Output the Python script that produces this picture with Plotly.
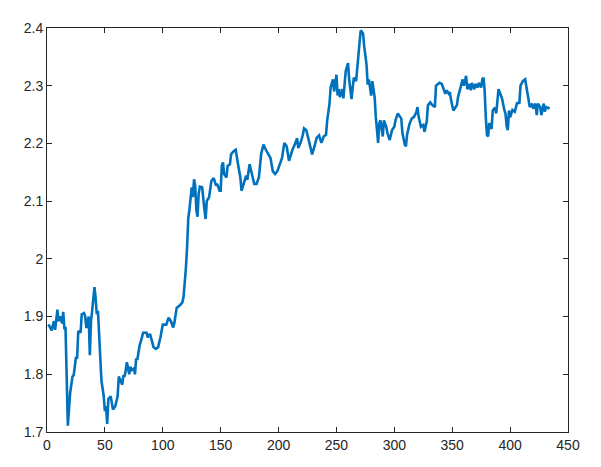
import plotly.graph_objects as go

x_idx = [1, 2, 4, 6, 7, 9, 10, 12, 13, 14, 15, 16, 18, 20, 22, 23, 24, 25, 26, 27, 29, 30, 32, 33, 34, 36, 37, 38, 39,
         41, 42, 43, 44, 45, 46, 47, 49, 50, 51, 52, 53, 55, 56, 57, 59, 61, 62, 63, 65, 66, 67, 68, 69, 71, 72, 73,
         75, 76, 77, 78, 80, 82, 83, 86, 87, 89, 92, 94, 96, 98, 100, 103, 105, 107, 109, 110, 112, 115, 117, 118,
         119, 120, 121, 122, 123, 124, 125, 126, 127, 128, 129, 130, 131, 132, 134, 136, 137, 138, 140, 141, 142, 144,
         146, 147, 149, 150, 151, 152, 153, 155, 156, 158, 159, 161, 163, 165, 167, 168, 170, 172, 173, 175, 177, 179,
         181, 183, 185, 187, 189, 191, 193, 195, 197, 199, 201, 203, 205, 207, 209, 210, 212, 214, 216, 217, 219, 221,
         222, 224, 225, 227, 229, 231, 233, 235, 237, 239, 241, 242, 244, 245, 247, 248, 249, 250, 251, 252, 253, 255,
         256, 258, 260, 261, 263, 264, 265, 267, 268, 270, 271, 273, 274, 276, 277, 278, 280, 281, 283, 284, 286, 287,
         288, 290, 291, 293, 294, 296, 298, 300, 301, 303, 304, 306, 307, 309, 310, 311, 313, 315, 317, 319, 320, 321,
         323, 325, 326, 328, 329, 331, 333, 335, 336, 339, 341, 342, 344, 345, 347, 348, 349, 351, 352, 354, 355, 357,
         358, 359, 360, 362, 363, 365, 366, 367, 369, 370, 372, 373, 375, 376, 377, 378, 379, 380, 381, 382, 384, 385,
         387, 388, 390, 391, 393, 395, 396, 397, 398, 399, 400, 402, 404, 406, 408, 409, 411, 413, 414, 416, 417, 419,
         420, 422, 423, 424, 426, 427, 429, 430, 431, 433, 434]

values = [1.886, 1.884, 1.876, 1.892, 1.877, 1.912, 1.892, 1.900, 1.888, 1.908, 1.880, 1.880, 1.711, 1.768, 1.796,
          1.798, 1.813, 1.830, 1.827, 1.875, 1.872, 1.904, 1.906, 1.900, 1.880, 1.900, 1.833, 1.892, 1.910,
          1.951, 1.932, 1.904, 1.910, 1.875, 1.836, 1.790, 1.762, 1.736, 1.745, 1.714, 1.757, 1.762, 1.750, 1.739,
          1.745, 1.762, 1.796, 1.790, 1.782, 1.798, 1.796, 1.807, 1.821, 1.800, 1.813, 1.807,
          1.810, 1.800, 1.827, 1.825, 1.850, 1.864, 1.872, 1.872, 1.864, 1.870, 1.847, 1.844, 1.847, 1.864, 1.886,
          1.886, 1.898, 1.892, 1.881, 1.889, 1.915, 1.920, 1.925, 1.935,
          1.955, 1.985, 2.020, 2.070, 2.085, 2.113, 2.124, 2.107, 2.138, 2.127, 2.085, 2.073, 2.113, 2.125, 2.124,
          2.085, 2.069, 2.100, 2.107, 2.121, 2.135, 2.140,
          2.127, 2.130, 2.118, 2.118, 2.161, 2.167, 2.147, 2.141, 2.161, 2.164, 2.181, 2.186, 2.189, 2.164, 2.141,
          2.118, 2.130, 2.144, 2.137, 2.164, 2.147, 2.130,
          2.130, 2.141, 2.182, 2.198, 2.189, 2.181, 2.175, 2.152, 2.147, 2.152, 2.162, 2.175, 2.201, 2.195, 2.170,
          2.178, 2.189, 2.198, 2.209, 2.192, 2.201, 2.215,
          2.226, 2.223, 2.215, 2.198, 2.181, 2.195, 2.210, 2.214, 2.201, 2.212, 2.215, 2.240, 2.269, 2.297, 2.311,
          2.290, 2.308, 2.319, 2.283, 2.294, 2.280, 2.294,
          2.278, 2.325, 2.339, 2.311, 2.277, 2.302, 2.314, 2.308, 2.336, 2.376, 2.396, 2.390, 2.368, 2.336, 2.302,
          2.311, 2.283, 2.308, 2.280, 2.246, 2.201, 2.235,
          2.240, 2.212, 2.240, 2.229, 2.218, 2.206, 2.223, 2.229, 2.240, 2.252, 2.249, 2.243, 2.218, 2.198, 2.195,
          2.215, 2.233, 2.243, 2.246, 2.254, 2.263, 2.246,
          2.229, 2.232, 2.220, 2.238, 2.266, 2.271, 2.266, 2.263, 2.300, 2.305, 2.303, 2.297, 2.286, 2.292, 2.286,
          2.289, 2.275, 2.257, 2.260, 2.266, 2.280, 2.297,
          2.308, 2.311, 2.300, 2.317, 2.294, 2.303, 2.292, 2.305, 2.294, 2.303, 2.297, 2.305, 2.297, 2.311, 2.314,
          2.292, 2.245, 2.215, 2.212, 2.235, 2.225, 2.257,
          2.262, 2.252, 2.294, 2.288, 2.278, 2.258, 2.252, 2.230, 2.223, 2.257, 2.245, 2.258, 2.255, 2.270, 2.270,
          2.300, 2.308, 2.311, 2.297, 2.274, 2.263, 2.269,
          2.260, 2.269, 2.249, 2.269, 2.263, 2.249, 2.269, 2.255, 2.263, 2.261, 2.263]

x_ticks = [0, 50, 100, 150, 200, 250, 300, 350, 400, 450]
y_ticks = [1.7, 1.8, 1.9, 2.0, 2.1, 2.2, 2.3, 2.4]
y_tick_labels = ["1.7", "1.8", "1.9", "2", "2.1", "2.2", "2.3", "2.4"]

axis_color = "#262626"
font = dict(family="Liberation Sans, Arial, sans-serif", size=14, color=axis_color)

fig = go.Figure()
fig.add_trace(go.Scatter(x=x_idx, y=values, mode="lines",
                         line=dict(color="#0072BD", width=2.6), showlegend=False))

common = dict(showgrid=False, zeroline=False, showline=True, linecolor=axis_color, linewidth=1,
              mirror="ticks", ticks="inside", ticklen=5, tickcolor=axis_color, tickwidth=1,
              tickfont=font)
fig.update_xaxes(range=[0, 450], tickvals=x_ticks, ticktext=[str(v) for v in x_ticks], **common)
fig.update_yaxes(range=[1.7, 2.4], tickvals=y_ticks, ticktext=y_tick_labels, **common)

fig.update_layout(width=601, height=467, margin=dict(l=39, r=41, t=13, b=43),
                  plot_bgcolor="white", paper_bgcolor="white", font=font)

fig.write_html("out.html")
